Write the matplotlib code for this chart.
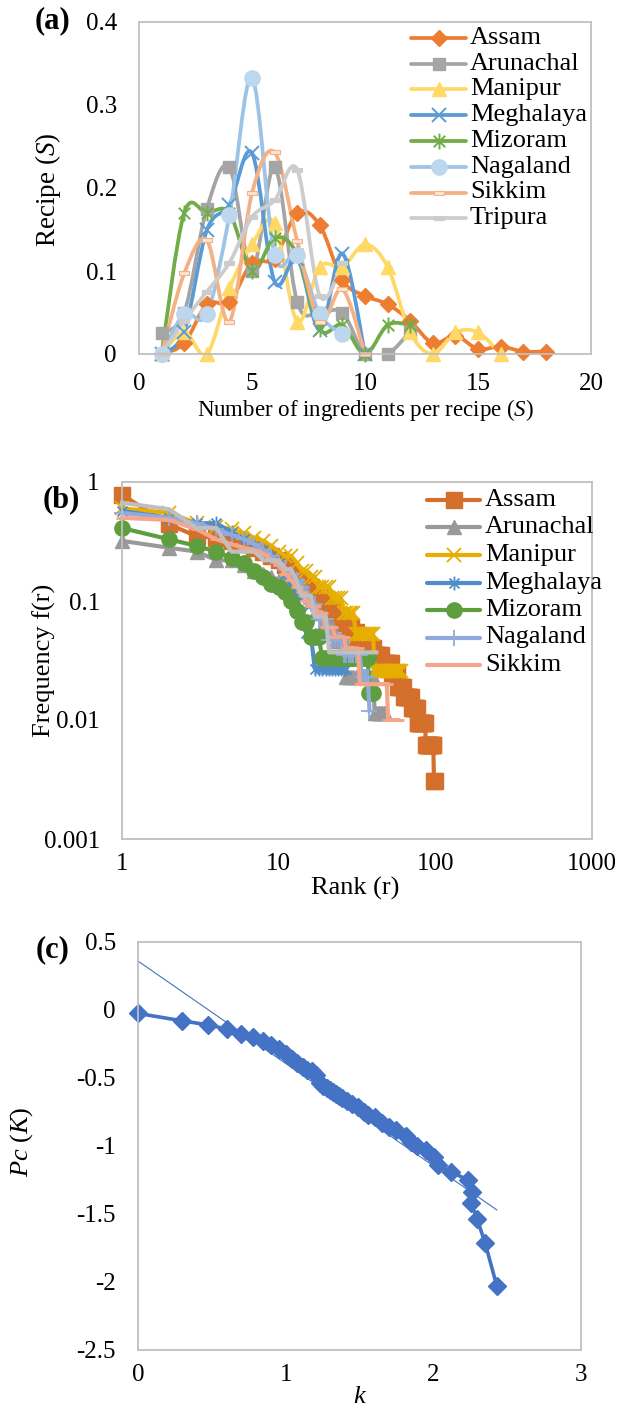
import numpy as np
import matplotlib
matplotlib.use("Agg")
import matplotlib.pyplot as plt
from matplotlib.path import Path
from matplotlib.patches import PathPatch
from matplotlib.lines import Line2D
from matplotlib.ticker import FixedLocator, FixedFormatter, NullLocator

plt.rcParams["font.family"] = ["Liberation Serif", "DejaVu Serif"]
plt.rcParams["mathtext.fontset"] = "custom"
plt.rcParams["mathtext.rm"] = "Liberation Serif"
plt.rcParams["mathtext.it"] = "Liberation Serif:italic"
plt.rcParams["mathtext.bf"] = "Liberation Serif:bold"
plt.rcParams["axes.unicode_minus"] = False

# ---------------- (a) recipe size distribution ----------------
states_a = ["Assam", "Arunachal", "Manipur", "Meghalaya", "Mizoram",
            "Nagaland", "Sikkim", "Tripura"]
assam_s = [0, 0.013, 0.06, 0.063, 0.11, 0.115, 0.17, 0.155, 0.089, 0.07,
           0.06, 0.04, 0.013, 0.022, 0.006, 0.009, 0.003, 0.003]
arunachal_s = [0.025, 0.05, 0.175, 0.225, 0.1, 0.225, 0.0625, 0.05, 0.05, 0,
               0, 0.027]
manipur_s = [0, 0.026, 0, 0.079, 0.132, 0.158, 0.039, 0.105, 0.105, 0.132,
             0.105, 0.026, 0, 0.026, 0.026, 0]
meghalaya_s = [0, 0.027, 0.149, 0.18, 0.242, 0.087, 0.115, 0.029, 0.121, 0]
mizoram_s = [0, 0.17, 0.17, 0.17, 0.1, 0.14, 0.12, 0.03, 0.035, 0, 0.035,
             0.035]
nagaland_s = [0, 0.048, 0.048, 0.167, 0.333, 0.119, 0.119, 0.048, 0.024]
sikkim_s = [0, 0.097, 0.137, 0.039, 0.194, 0.243, 0.136, 0.039, 0.078, 0]
tripura_s = [0, 0.04, 0.075, 0.11, 0.165, 0.185, 0.222, 0.07, 0.11]
series_a = [assam_s, arunachal_s, manipur_s, meghalaya_s, mizoram_s,
            nagaland_s, sikkim_s, tripura_s]

# ---------------- (b) rank-frequency (run-length: value, ranks) ----------------
states_b = ["Assam", "Arunachal", "Manipur", "Meghalaya", "Mizoram",
            "Nagaland", "Sikkim", "Tripura"]
assam_f = [0.78, 0.44, 0.35, 0.34, 0.32, 0.30, 0.28, 0.26, 0.24, 0.22, 0.20,
           0.18, 0.16, 0.15, 0.14, 0.13, 0.12, 0.11, 0.10, 0.095, 0.09, 0.085,
           0.08, 0.075, 0.07, 0.065, 0.06, 0.055, 0.05, 0.045, 0.04, 0.035,
           0.03, 0.025, 0.019, 0.0156, 0.0125, 0.0094, 0.0062, 0.0031]
assam_n = [1] * 25 + [2, 2, 2, 2, 3, 4, 5, 7, 5, 5, 8, 6, 10, 11, 2]
arunachal_f = [0.32, 0.28, 0.26, 0.22, 0.2, 0.18, 0.17, 0.16, 0.15, 0.14, 0.12,
               0.1, 0.08, 0.06, 0.046, 0.023, 0.0115]
arunachal_n = [1, 1, 1, 2, 1, 1, 1, 1, 2, 3, 1, 1, 2, 4, 4, 14, 8]
manipur_f = [0.6, 0.55, 0.45, 0.42, 0.4, 0.37, 0.34, 0.32, 0.29, 0.26, 0.24,
             0.21, 0.18, 0.16, 0.13, 0.105, 0.079, 0.053, 0.026]
manipur_n = [1, 1, 1, 1, 1, 1, 1, 1, 1, 1, 2, 1, 2, 2, 4, 4, 5, 10, 20]
meghalaya_f = [0.57, 0.5, 0.45, 0.38, 0.33, 0.29, 0.27, 0.24, 0.21, 0.17,
               0.135, 0.11, 0.08, 0.054, 0.027]
meghalaya_n = [1, 1, 2, 1, 1, 1, 1, 1, 1, 1, 1, 1, 1, 2, 11]
mizoram_f = [0.41, 0.33, 0.29, 0.26, 0.23, 0.21, 0.18, 0.16, 0.14, 0.13, 0.12,
             0.1, 0.083, 0.067, 0.05, 0.033, 0.017]
mizoram_n = [1, 1, 1, 1, 1, 1, 1, 1, 1, 1, 1, 1, 1, 2, 3, 19, 3]
nagaland_f = [0.55, 0.5, 0.45, 0.4, 0.36, 0.33, 0.3, 0.27, 0.24, 0.21, 0.19,
              0.17, 0.15, 0.13, 0.11, 0.095, 0.07, 0.047, 0.035, 0.023, 0.012]
nagaland_n = [1] * 15 + [2, 3, 5, 8, 4, 1]
sikkim_f = [0.5, 0.48, 0.4, 0.33, 0.3, 0.28, 0.27, 0.25, 0.22, 0.2, 0.17,
            0.15, 0.13, 0.12, 0.1, 0.09, 0.08, 0.06, 0.05, 0.04, 0.02, 0.01]
sikkim_n = [1] * 15 + [2, 2, 3, 4, 6, 17, 9]
tripura_f = [0.67, 0.59, 0.41, 0.26, 0.22, 0.185, 0.148, 0.111, 0.074,
             0.037]
tripura_n = [1, 1, 2, 3, 3, 2, 1, 3, 4, 22]
runs_b = [(assam_f, assam_n), (arunachal_f, arunachal_n),
          (manipur_f, manipur_n), (meghalaya_f, meghalaya_n),
          (mizoram_f, mizoram_n), (nagaland_f, nagaland_n),
          (sikkim_f, sikkim_n), (tripura_f, tripura_n)]

# ---------------- (c) cumulative degree distribution (log10) ----------------
k_vals = [0, 0.301, 0.477, 0.602, 0.699, 0.778, 0.845, 0.903, 0.954, 1.0,
          1.041, 1.079, 1.114, 1.146, 1.176, 1.204, 1.23, 1.255, 1.279, 1.301,
          1.322, 1.342, 1.362, 1.38, 1.415, 1.447, 1.491, 1.531, 1.556, 1.602,
          1.653, 1.699, 1.748, 1.813, 1.851, 1.892, 1.949, 2.004, 2.029, 2.117,
          2.236, 2.265, 2.255, 2.297, 2.35, 2.43]
pc_vals = [-0.025, -0.08, -0.11, -0.14, -0.18, -0.2, -0.23, -0.26, -0.29,
           -0.32, -0.36, -0.39, -0.42, -0.44, -0.45, -0.48, -0.54, -0.56,
           -0.575, -0.59, -0.6, -0.62, -0.635, -0.65, -0.67, -0.69, -0.71,
           -0.75, -0.77, -0.79, -0.83, -0.86, -0.88, -0.93, -0.97, -1.0, -1.03,
           -1.08, -1.14, -1.19, -1.25, -1.34, -1.42, -1.54, -1.71, -2.03]
fit_intercept = 0.36
fit_slope = -0.753
fit_range = [0, 2.43]

# ---------------- styling ----------------
W, H = 622, 1419
fig = plt.figure(figsize=(W / 100, H / 100), dpi=100)
fig.patch.set_facecolor("white")


def box(l, t, r, b):
    return [l / W, 1 - b / H, (r - l) / W, (b - t) / H]


def fx(px):
    return px / W


def fy(py):
    return 1 - py / H


def style_axes(ax):
    for s in ax.spines.values():
        s.set_color("#BFBFBF")
        s.set_linewidth(1.3)
    ax.tick_params(length=0, labelsize=18, pad=16, colors="black")
    ax.xaxis.set_minor_locator(NullLocator())
    ax.yaxis.set_minor_locator(NullLocator())


ASTERISK = Path([(0, -1), (0, 1), (-0.72, -0.72), (0.72, 0.72),
                 (-0.72, 0.72), (0.72, -0.72)],
                [Path.MOVETO, Path.LINETO, Path.MOVETO, Path.LINETO,
                 Path.MOVETO, Path.LINETO])
DASH = Path([(-1, -0.4), (1, -0.4), (1, 0.4), (-1, 0.4), (-1, -0.4)],
            [Path.MOVETO, Path.LINETO, Path.LINETO, Path.LINETO,
             Path.CLOSEPOLY])


def smooth_path(x, y):
    pts = np.column_stack([x, y]).astype(float)
    n = len(pts)
    verts = [pts[0]]
    codes = [Path.MOVETO]
    for i in range(n - 1):
        p0 = pts[i - 1] if i > 0 else pts[i]
        p1, p2 = pts[i], pts[i + 1]
        p3 = pts[i + 2] if i + 2 < n else pts[i + 1]
        verts += [p1 + (p2 - p0) / 6.0, p2 - (p3 - p1) / 6.0, p2]
        codes += [Path.CURVE4] * 3
    return Path(verts, codes)


# marker styles for panel (a)
colors_a = ["#ED7D31", "#A5A5A5", "#FFD966", "#5B9BD5", "#70AD47",
            "#9DC3E6", "#F4B183", "#CCCCCC"]
mk_a = [dict(marker="D", ms=8, mfc="#ED7D31", mec="#ED7D31"),
        dict(marker="s", ms=9, mfc="#A5A5A5", mec="#A5A5A5"),
        dict(marker="^", ms=10, mfc="#FFD966", mec="#FFD966"),
        dict(marker="x", ms=10.5, mec="#5B9BD5", mew=1.4),
        dict(marker=ASTERISK, ms=11.5, mfc="none", mec="#70AD47", mew=1.4),
        dict(marker="o", ms=11, mfc="#BDD7EE", mec="#BDD7EE"),
        dict(marker=DASH, ms=7, mfc="#FBE5D6", mec="#F4B183", mew=0.8),
        dict(marker=DASH, ms=7, mfc="#CCCCCC", mec="#CCCCCC", mew=0.8)]

# ---------------- panel (a) ----------------
axA = fig.add_axes(box(139, 22, 591, 354))
style_axes(axA)
axA.set_xlim(0, 20)
axA.set_ylim(0, 0.4)
axA.xaxis.set_major_locator(FixedLocator([0, 5, 10, 15, 20]))
axA.xaxis.set_major_formatter(FixedFormatter(["0", "5", "10", "15", "20"]))
axA.yaxis.set_major_locator(FixedLocator([0, 0.1, 0.2, 0.3, 0.4]))
axA.yaxis.set_major_formatter(FixedFormatter(["0", "0.1", "0.2", "0.3", "0.4"]))
axA.tick_params(axis="x", pad=14)

for vals, col, mk in zip(series_a, colors_a, mk_a):
    xs = np.arange(1, len(vals) + 1)
    axA.add_patch(PathPatch(smooth_path(xs, vals), fill=False, edgecolor=col,
                            lw=2.7, capstyle="round", joinstyle="round"))
    axA.plot(xs, vals, ls="none", clip_on=False, **mk)

for i, (name, col, mk) in enumerate(zip(states_a, colors_a, mk_a)):
    y = 37.7 + i * 25.8
    fig.add_artist(Line2D([fx(411), fx(466)], [fy(y), fy(y)], color=col,
                          lw=2.7, solid_capstyle="round",
                          transform=fig.transFigure))
    fig.add_artist(Line2D([fx(438.5)], [fy(y)], ls="none",
                          transform=fig.transFigure, **mk))
    fig.text(fx(470), fy(y), name, fontsize=19, va="center", ha="left")

fig.text(fx(52), fy(21), "(a)", fontsize=22, fontweight="bold",
         ha="center", va="center")
fig.text(fx(48), fy(190), "Recipe ($S$)", fontsize=19.5, rotation=90,
         ha="center", va="center")
fig.text(fx(366), fy(410), "Number of ingredients per recipe ($S$)",
         fontsize=16.5, ha="center", va="center")

# ---------------- panel (b) ----------------
colors_b = ["#D4702C", "#999999", "#E6AE00", "#4F8CC9", "#5F9E3E",
            "#8FAADC", "#F4A58A", "#BFBFBF"]
mk_b = [dict(marker="s", ms=12, mfc="#D4702C", mec="#D4702C"),
        dict(marker="^", ms=10.5, mfc="#999999", mec="#999999"),
        dict(marker="x", ms=9.5, mec="#E6AE00", mew=1.3),
        dict(marker=ASTERISK, ms=10, mfc="none", mec="#4F8CC9", mew=1.3),
        dict(marker="o", ms=11, mfc="#5F9E3E", mec="#5F9E3E"),
        dict(marker="+", ms=12, mec="#8FAADC", mew=1.3),
        dict(marker="_", ms=9, mec="#F4A58A", mew=2),
        dict(marker="none")]

axB = fig.add_axes(box(122, 482, 592, 839))
style_axes(axB)
axB.set_xscale("log")
axB.set_yscale("log")
axB.set_xlim(1, 1000)
axB.set_ylim(0.001, 1)
axB.xaxis.set_major_locator(FixedLocator([1, 10, 100, 1000]))
axB.xaxis.set_major_formatter(FixedFormatter(["1", "10", "100", "1000"]))
axB.yaxis.set_major_locator(FixedLocator([0.001, 0.01, 0.1, 1]))
axB.yaxis.set_major_formatter(FixedFormatter(["0.001", "0.01", "0.1", "1"]))
axB.xaxis.set_minor_locator(NullLocator())
axB.yaxis.set_minor_locator(NullLocator())
axB.tick_params(axis="x", pad=10)

for (fv, nv), col, mk in zip(runs_b, colors_b, mk_b):
    freq = np.repeat(fv, nv)
    rank = np.arange(1, len(freq) + 1)
    axB.plot(rank, freq, color=col, lw=3, solid_joinstyle="round",
             clip_on=False, **mk)

for i, (name, col, mk) in enumerate(zip(states_b[:7], colors_b, mk_b)):
    y = 500 + i * 27.5
    fig.add_artist(Line2D([fx(427), fx(480)], [fy(y), fy(y)], color=col,
                          lw=3, solid_capstyle="round",
                          transform=fig.transFigure))
    fig.add_artist(Line2D([fx(453.5)], [fy(y)], ls="none",
                          transform=fig.transFigure, **mk))
    fig.text(fx(485), fy(y), name, fontsize=19, va="center", ha="left")

fig.text(fx(61), fy(500), "(b)", fontsize=22, fontweight="bold",
         ha="center", va="center")
fig.text(fx(44), fy(660), "Frequency f(r)", fontsize=19, rotation=90,
         ha="center", va="center")
fig.text(fx(355), fy(888), "Rank (r)", fontsize=19, ha="center",
         va="center")

# ---------------- panel (c) ----------------
axC = fig.add_axes(box(138, 942, 581, 1350))
style_axes(axC)
axC.set_xlim(0, 3)
axC.set_ylim(-2.5, 0.5)
axC.xaxis.set_major_locator(FixedLocator([0, 1, 2, 3]))
axC.xaxis.set_major_formatter(FixedFormatter(["0", "1", "2", "3"]))
axC.yaxis.set_major_locator(FixedLocator([-2.5, -2, -1.5, -1, -0.5, 0, 0.5]))
axC.yaxis.set_major_formatter(FixedFormatter(
    ["-2.5", "-2", "-1.5", "-1", "-0.5", "0", "0.5"]))
axC.tick_params(axis="x", pad=10)

axC.plot(k_vals, pc_vals, color="#4472C4", lw=2.6, marker="D", ms=9.5,
         mfc="#4472C4", mec="#4472C4", clip_on=False)
fit_x = np.array(fit_range)
axC.plot(fit_x, fit_intercept + fit_slope * fit_x, color="#4472C4", lw=0.8)

fig.text(fx(53), fy(950), "(c)", fontsize=22, fontweight="bold",
         ha="center", va="center")
fig.text(fx(22), fy(1142), "$Pc$ ($K$)", fontsize=19, rotation=90,
         ha="center", va="center")
fig.text(fx(360), fy(1397), "$k$", fontsize=19, ha="center", va="center")

fig.savefig("out.png", dpi=100, facecolor="white")
